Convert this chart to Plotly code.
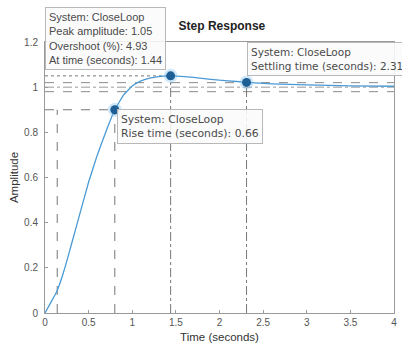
import plotly.graph_objects as go

# Step response samples
time_s = [0, 0.05, 0.1, 0.14, 0.2, 0.25, 0.3, 0.4, 0.5, 0.6, 0.7, 0.8, 0.9, 1.0,
          1.1, 1.2, 1.3, 1.44, 1.6, 1.8, 2.0, 2.2, 2.31, 2.6, 3.0, 3.5, 4.0]
amplitude = [0, 0.035, 0.07, 0.10, 0.165, 0.23, 0.30, 0.44, 0.58, 0.70, 0.805, 0.90,
             0.965, 1.005, 1.028, 1.04, 1.047, 1.05, 1.047, 1.039, 1.031, 1.025,
             1.021, 1.015, 1.01, 1.006, 1.004]

# characteristic points
rise_start_t, rise_end_t, rise_level = 0.14, 0.80, 0.9
peak_t, peak_amp = 1.44, 1.05
settle_t, settle_amp = 2.31, 1.021
band_hi, band_lo, final_value = 1.02, 0.98, 1.0

x_ticks = [0, 0.5, 1, 1.5, 2, 2.5, 3, 3.5, 4]
x_labels = ["0", "0.5", "1", "1.5", "2", "2.5", "3", "3.5", "4"]
y_ticks = [0, 0.2, 0.4, 0.6, 0.8, 1.0, 1.2]
y_labels = ["0", "0.2", "0.4", "0.6", "0.8", "1", "1.2"]

peak_text = ["System: CloseLoop", "Peak amplitude: 1.05", "Overshoot (%): 4.93",
             "At time (seconds): 1.44"]
rise_text = ["System: CloseLoop", "Rise time (seconds): 0.66"]
settle_text = ["System: CloseLoop", "Settling time (seconds): 2.31"]

FONT = "Liberation Sans, Arial, sans-serif"
WIDE = "DejaVu Sans, Liberation Sans, sans-serif"
LINE_BLUE = "#4a9ad6"
DOT_BLUE = "#1d5f94"
GUIDE = "#777777"

fig = go.Figure()

shapes = []
def seg(x0, y0, x1, y1, dash, color=GUIDE, width=1):
    shapes.append(dict(type="line", xref="x", yref="y", x0=x0, y0=y0, x1=x1, y1=y1,
                       line=dict(color=color, width=width, dash=dash), layer="below"))

# settling band & final value
seg(0, band_hi, 4, band_hi, "dash", "#8a8a8a")
seg(0, band_lo, 4, band_lo, "dash", "#8a8a8a")
seg(0, final_value, 4, final_value, "dashdot", "#9a9a9a")
# rise time guides
seg(0, rise_level, rise_end_t, rise_level, "dash")
seg(rise_start_t, 0, rise_start_t, rise_level, "dash")
seg(rise_end_t, 0, rise_end_t, rise_level, "dash")
# peak guides
seg(0, peak_amp, peak_t, peak_amp, "dot")
seg(peak_t, 0, peak_t, peak_amp, "dashdot")
# settling guide
seg(settle_t, 0, settle_t, settle_amp, "dashdot")

fig.add_trace(go.Scatter(x=time_s, y=amplitude, mode="lines",
                         line=dict(color=LINE_BLUE, width=1.3, shape="spline", smoothing=0.3),
                         hoverinfo="skip", showlegend=False))

mk_x = [rise_end_t, peak_t, settle_t]
mk_y = [rise_level, peak_amp, settle_amp]
fig.add_trace(go.Scatter(x=mk_x, y=mk_y, mode="markers",
                         marker=dict(size=14, color="rgba(120,190,240,0.35)", line=dict(width=0)),
                         hoverinfo="skip", showlegend=False))
fig.add_trace(go.Scatter(x=mk_x, y=mk_y, mode="markers",
                         marker=dict(size=9, color=DOT_BLUE, line=dict(width=0)),
                         hoverinfo="skip", showlegend=False))

def box(text_lines, x, y, xanchor, yanchor, size=11, xshift=0, family=FONT):
    fig.add_annotation(text="<br>".join(text_lines), x=x, y=y, xref="x", yref="y",
                       xanchor=xanchor, yanchor=yanchor, showarrow=False, align="left",
                       xshift=xshift,
                       font=dict(family=family, size=size, color="#4a4a4a"),
                       bgcolor="rgba(250,250,252,0.88)", bordercolor="#b8b8b8",
                       borderwidth=1, borderpad=3)

box(peak_text, 0.0, 1.074, "left", "bottom", xshift=0)
box(rise_text, rise_end_t, rise_level + 0.002, "left", "top", size=10.8, xshift=2, family=WIDE)
box(settle_text, settle_t, 1.2, "left", "top", size=10.5, xshift=0, family=WIDE)

fig.update_layout(
    width=402, height=347,
    margin=dict(l=45, r=5, t=42, b=34),
    paper_bgcolor="white", plot_bgcolor="white",
    shapes=shapes,
    title=dict(text="<b>Step Response</b>", x=0.552, xanchor="center", y=0.925, yanchor="middle",
               font=dict(family=FONT, size=12, color="#222222")),
    font=dict(family=FONT, size=10, color="#555555"),
    xaxis=dict(range=[0, 4], tickvals=x_ticks, ticktext=x_labels, showgrid=False,
               zeroline=False, showline=True, linecolor="#9a9a9a", linewidth=1, mirror=True,
               ticks="inside", ticklen=3, tickcolor="#9a9a9a",
               title=dict(text="Time (seconds)", font=dict(size=11.5, color="#333333"), standoff=5)),
    yaxis=dict(range=[0, 1.2], tickvals=y_ticks, ticktext=y_labels, showgrid=False,
               zeroline=False, showline=True, linecolor="#9a9a9a", linewidth=1, mirror=True,
               ticks="inside", ticklen=3, tickcolor="#9a9a9a", ticklabelstandoff=4,
               title=dict(text="Amplitude", font=dict(size=11.5, color="#333333"), standoff=3)),
)

fig.write_html("out.html", config={"displayModeBar": False},
               post_script="document.body.style.margin='0';")
